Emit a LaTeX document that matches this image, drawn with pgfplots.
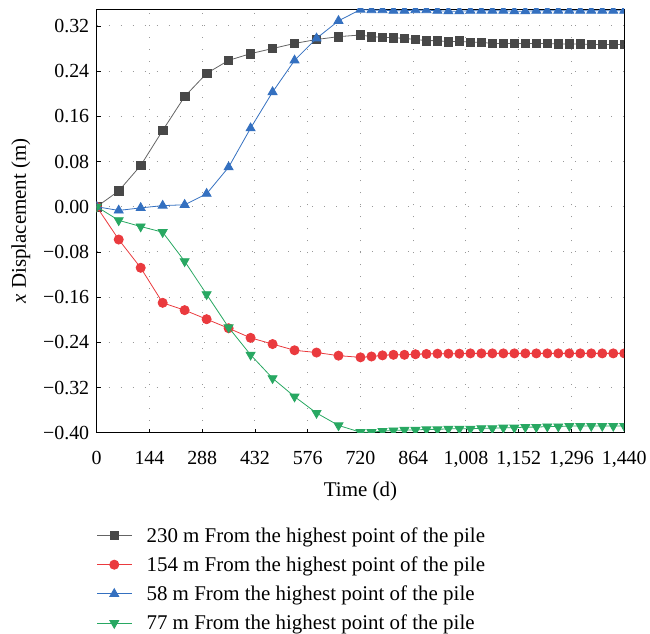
\documentclass[border=0pt]{standalone}
\usepackage{pgfplots}
\pgfplotsset{compat=1.18}
\usepackage{fontspec}
\setmainfont{Liberation Serif}

\definecolor{sgray}{RGB}{72,72,72}
\definecolor{sgrayline}{RGB}{100,100,100}
\definecolor{sred}{RGB}{234,58,62}
\definecolor{sblue}{RGB}{52,112,192}
\definecolor{sgreen}{RGB}{40,168,98}

\begin{document}
\begin{tikzpicture}[font=\fontsize{20}{23}\selectfont]
\begin{axis}[
    scale only axis,
    width=529pt,
    height=425pt,
    xmin=0, xmax=1440,
    ymin=-0.40, ymax=0.35,
    clip marker paths=true,
    xtick={0,144,288,432,576,720,864,1008,1152,1296,1440},
    xticklabels={0,144,288,432,576,720,864,{1,008},{1,152},{1,296},{1,440}},
    ytick={-0.40,-0.32,-0.24,-0.16,-0.08,0,0.08,0.16,0.24,0.32},
    yticklabels={−0.40,−0.32,−0.24,−0.16,−0.08,0.00,0.08,0.16,0.24,0.32},
    yticklabel style={xshift=-4pt},
    xticklabel style={yshift=-15pt},
    tick align=inside,
    xtick pos=bottom, ytick pos=left,
    major tick length=4pt,
    tick style={black, line width=0.6pt},
    axis line style={black, line width=0.8pt},
    grid=major,
    grid style={gray!80, line width=1pt, dash pattern=on 1pt off 11pt},
    xlabel={Time (d)},
    ylabel={\textit{x} Displacement (m)},
    label style={font=\fontsize{21}{24}\selectfont},
    xlabel style={yshift=-8pt},
    ylabel style={yshift=6pt},
    every axis plot/.append style={line width=0.8pt},
    legend style={at={(0,-0.218)}, anchor=north west, draw=none, fill=none,
        row sep=9pt, inner sep=0pt, font=\fontsize{21}{24}\selectfont,
        nodes={inner xsep=14pt}},
    legend cell align=left,
    legend image code/.code={
        \draw[mark repeat=2,mark phase=2,#1] plot coordinates {(0pt,0pt) (17pt,0pt) (35pt,0pt)};},
]
\addplot[sgrayline, mark=square*, mark size=4.3pt, mark options={solid, draw=sgray, fill=sgray}] coordinates {
(0,0) (60,0.028) (120,0.073) (180,0.135) (240,0.195) (300,0.236) (360,0.259)
(420,0.271) (480,0.280) (540,0.289) (600,0.296) (660,0.301) (720,0.304)
(750,0.301) (780,0.300) (810,0.299) (840,0.298) (870,0.296) (900,0.294)
(930,0.294) (960,0.292) (990,0.293) (1020,0.291) (1050,0.291) (1080,0.289)
(1110,0.289) (1140,0.289) (1170,0.289) (1200,0.289) (1230,0.289) (1260,0.288)
(1290,0.288) (1320,0.288) (1350,0.287) (1380,0.287) (1410,0.287) (1440,0.287)
};
\addlegendentry{230 m From the highest point of the pile}
\addplot[sred, mark=*, mark size=4.6pt] coordinates {
(0,0) (60,-0.058) (120,-0.108) (180,-0.170) (240,-0.183) (300,-0.199) (360,-0.215)
(420,-0.232) (480,-0.243) (540,-0.254) (600,-0.258) (660,-0.2635) (720,-0.2665)
(750,-0.265) (780,-0.263) (810,-0.262) (840,-0.262) (870,-0.261) (900,-0.2605)
(930,-0.260) (960,-0.260) (990,-0.260) (1020,-0.2595) (1050,-0.2595) (1080,-0.2595)
(1110,-0.2595) (1140,-0.2595) (1170,-0.2595) (1200,-0.2595) (1230,-0.2595) (1260,-0.2595)
(1290,-0.2595) (1320,-0.2595) (1350,-0.2595) (1380,-0.2595) (1410,-0.2595) (1440,-0.2595)
};
\addlegendentry{154 m From the highest point of the pile}
\addplot[sblue, mark=triangle*, mark size=5.2pt] coordinates {
(0,0) (60,-0.0065) (120,-0.002) (180,0.002) (240,0.0035) (300,0.023) (360,0.070)
(420,0.139) (480,0.203) (540,0.259) (600,0.298) (660,0.329) (720,0.349)
(750,0.348) (780,0.348) (810,0.347) (840,0.347) (870,0.348) (900,0.348)
(930,0.347) (960,0.346) (990,0.346) (1020,0.347) (1050,0.347) (1080,0.347)
(1110,0.347) (1140,0.346) (1170,0.346) (1200,0.347) (1230,0.347) (1260,0.347)
(1290,0.347) (1320,0.347) (1350,0.347) (1380,0.347) (1410,0.347) (1440,0.347)
};
\addlegendentry{58 m From the highest point of the pile}
\addplot[sgreen, mark=triangle*, mark size=5.2pt, mark options={rotate=180}] coordinates {
(0,0) (60,-0.024) (120,-0.035) (180,-0.045) (240,-0.0965) (300,-0.155) (360,-0.2135)
(420,-0.262) (480,-0.3035) (540,-0.336) (600,-0.365) (660,-0.387) (720,-0.399)
(750,-0.399) (780,-0.397) (810,-0.396) (840,-0.395) (870,-0.395) (900,-0.394)
(930,-0.394) (960,-0.393) (990,-0.393) (1020,-0.393) (1050,-0.392) (1080,-0.392)
(1110,-0.391) (1140,-0.391) (1170,-0.390) (1200,-0.390) (1230,-0.389) (1260,-0.389)
(1290,-0.388) (1320,-0.388) (1350,-0.388) (1380,-0.388) (1410,-0.388) (1440,-0.388)
};
\addlegendentry{77 m From the highest point of the pile}
\coordinate (tl) at (rel axis cs:0,1);
\coordinate (br) at (rel axis cs:1,0);
\end{axis}
\path (tl) ++(-97pt,9pt);
\path (br) ++(24pt,-201pt);
\end{tikzpicture}
\end{document}
